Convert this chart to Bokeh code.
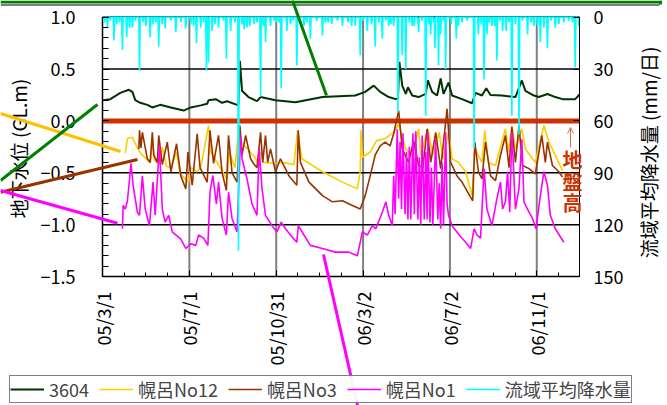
import math
import numpy as np
import pandas as pd
from bokeh.plotting import figure
from bokeh.models import (Range1d, LinearAxis, FixedTicker, Legend, LegendItem,
                          Arrow, OpenHead, Label)
from bokeh.embed import file_html
from bokeh.resources import INLINE

FONT = "Noto Sans CJK JP"

# ---------------- data (days since 2005-03-01) ----------------
start_date = "2005-03-01"
end_date = "2006-12-31"
x_tick_dates = ["2005-03-01", "2005-07-01", "2005-10-31", "2006-03-02", "2006-07-02", "2006-11-01"]
x_tick_labels = ["05/3/1", "05/7/1", "05/10/31", "06/3/2", "06/7/2", "06/11/1"]
y_left_ticks = [-1.5, -1.0, -0.5, 0.0, 0.5, 1.0]
y_left_labels = ["\u22121.5", "\u22121.0", "\u22120.5", "0.0", "0.5", "1.0"]
y_right_ticks = [0, 30, 60, 90, 120, 150]
ground_level = 0.0

series_names = ["3604", "幌呂No12", "幌呂No3", "幌呂No1", "流域平均降水量"]

d3604 = [1, 11, 25, 37, 42, 46, 53, 63, 70, 81, 96, 114, 124, 138, 147, 149, 159, 168, 175, 189,
         191, 193, 196, 205, 217, 222, 243, 271, 309, 355, 369, 381, 390, 402, 412, 415, 417, 421, 426, 429,
         435, 444, 454, 457, 463, 470, 475, 479, 486, 491, 505, 519, 524, 533, 539, 545, 561, 580, 589, 594,
         606, 613, 625, 636, 646, 664, 670]
v3604 = [0.20, 0.21, 0.27, 0.30, 0.28, 0.20, 0.175, 0.155, 0.13, 0.155, 0.13, 0.10, 0.13, 0.15, 0.165, 0.20, 0.21, 0.175, 0.19, 0.155,
         0.16, 0.58, 0.29, 0.23, 0.19, 0.23, 0.20, 0.18, 0.23, 0.245, 0.28, 0.34, 0.28, 0.23, 0.21, 0.22, 0.57, 0.34, 0.26, 0.325,
         0.245, 0.23, 0.26, 0.39, 0.28, 0.245, 0.41, 0.26, 0.37, 0.245, 0.21, 0.17, 0.27, 0.245, 0.315, 0.25, 0.245, 0.23, 0.39, 0.29,
         0.245, 0.23, 0.26, 0.23, 0.21, 0.21, 0.255]

d_no12 = [32, 35, 42, 46, 51, 56, 67, 70, 73, 81, 84, 90, 96, 104, 109, 121, 124, 133, 138, 149,
          152, 166, 175, 178, 186, 191, 196, 204, 214, 218, 222, 226, 243, 252, 269, 274, 280, 309, 337, 358,
          362, 363, 365, 376, 385, 397, 409, 416, 426, 435, 444, 447, 457, 464, 473, 478, 486, 491, 500, 510,
          519, 523, 533, 537, 542, 552, 566, 570, 575, 580, 589, 594, 608, 620, 627, 636, 646]
v_no12 = [-0.31, -0.17, -0.157, -0.22, -0.285, -0.33, -0.40, -0.20, -0.38, -0.42,
          -0.25, -0.44, -0.446, -0.30, -0.51, -0.59, -0.45, -0.49, -0.446, -0.044,
          -0.30, -0.46, -0.56, -0.30, -0.45, -0.11, -0.22, -0.27, -0.35, -0.40,
          -0.30, -0.40, -0.41, -0.40, -0.42, -0.09, -0.365, -0.49, -0.59, -0.655,
          -0.49, -0.09, -0.35, -0.30, -0.19, -0.17, -0.11, -0.03, -0.27, -0.33,
          -0.076, -0.33, -0.076, -0.33, -0.11, -0.365, -0.11, -0.365, -0.40, -0.49,
          -0.72, -0.27, -0.40, -0.09, -0.40, -0.43, -0.076, -0.30, -0.044, -0.27,
          -0.076, -0.27, -0.40, -0.044, -0.205, -0.33, -0.48]

d_no3 = [51, 52, 54, 56, 63, 67, 70, 72, 77, 79, 84, 91, 96, 104, 110, 117, 120, 126, 133, 137,
         147, 151, 156, 163, 168, 174, 177, 182, 189, 193, 196, 201, 208, 213, 217, 222, 225, 229, 232, 236,
         243, 250, 262, 273, 275, 278, 290, 309, 323, 337, 351, 362, 369, 376, 383, 390, 397, 404, 409, 416,
         421, 430, 437, 444, 450, 456, 461, 468, 475, 484, 489, 498, 505, 517, 520, 523, 528, 533, 538, 545,
         552, 559, 566, 571, 575, 580, 585, 590, 599, 608, 617, 622, 625, 632, 641, 646]
v_no3 = [-0.27, -0.09, -0.26, -0.11, -0.365, -0.40, -0.11, -0.33, -0.40, -0.14,
         -0.42, -0.205, -0.49, -0.22, -0.53, -0.655, -0.30, -0.62, -0.124, -0.45,
         -0.59, -0.09, -0.41, -0.14, -0.50, -0.67, -0.14, -0.50, -0.59, -0.044,
         -0.33, -0.14, -0.365, -0.42, -0.45, -0.11, -0.40, -0.14, -0.40, -0.27,
         -0.49, -0.365, -0.53, -0.62, -0.09, -0.40, -0.59, -0.72, -0.78, -0.77,
         -0.815, -0.85, -0.72, -0.53, -0.33, -0.24, -0.205, -0.24, -0.124, 0.10,
         -0.27, -0.40, -0.19, -0.43, -0.45, -0.076, -0.40, -0.11, -0.46, 0.117,
         -0.40, -0.53, -0.59, -0.735, -0.77, -0.205, -0.49, -0.56, -0.205, -0.53,
         -0.575, -0.33, -0.14, -0.45, -0.06, -0.40, -0.044, -0.43, -0.46, -0.51,
         -0.14, -0.40, -0.205, -0.43, -0.49, -0.54]

d_no1 = [28, 29, 32, 35, 38, 40, 43, 49, 52, 56, 60, 66, 71, 74, 80, 84, 88, 93, 98, 110,
         117, 124, 131, 135, 142, 148, 151, 155, 160, 163, 168, 174, 177, 182, 189, 194, 196, 203, 210, 217,
         220, 224, 229, 238, 245, 251, 257, 269, 273, 275, 283, 292, 309, 327, 346, 358, 365, 372, 379, 384,
         393, 398, 402,
         407, 409, 411, 414, 416, 418, 420, 422, 425, 427, 429, 431, 433, 436, 438, 440, 443, 445, 447, 449,
         452, 454, 456, 457, 460, 462, 464, 468, 471, 473, 475, 477, 479, 482, 484, 486, 491,
         501, 510, 517, 522, 526, 531, 536, 540, 547, 554, 559, 562, 566, 569, 572, 575, 580, 585, 589, 592,
         599, 604, 609, 615, 620, 625, 629, 636, 648]
v_no1 = [-1.04, -0.815, -0.85, -0.77, -0.56, -0.41, -0.62, -0.88, -0.91, -0.53,
         -0.85, -1.01, -0.59, -0.91, -0.24, -0.85, -0.976, -0.91, -1.07, -1.14,
         -1.23, -1.185, -1.2, -1.10, -1.13, -1.2, -0.687, -0.526, -0.80, -0.59,
         -0.94, -1.10, -0.687, -0.94, -1.07, -0.14, -0.365, -0.56, -0.80, -0.91,
         -0.27, -0.65, -0.91, -1.01, -1.07, -0.976, -1.04, -1.14, -1.17, -1.01,
         -1.10, -1.2, -1.23, -1.265, -1.265, -1.30, -1.07, -1.10, -1.01, -1.04,
         -0.88, -0.78, -0.91,
         -1.01, -0.53, -0.90, -0.08, -0.75, -0.20, -0.85, -0.12, -0.90, -0.30,
         -0.95, -0.25, -0.95, -0.12, -0.90, -0.10, -0.95, -0.35, -1.0, -0.14,
         -0.95, -0.30, -0.95, -0.11, -0.98, -0.45, -1.0, -0.18, -0.95, -0.60,
         -1.04, -0.40, -1.0, -0.11, -0.80, -0.91, -1.01,
         -1.10, -1.17, -1.23, -1.04, -1.10, -1.13, -0.46, -0.85, -1.01, -0.75,
         -0.59, -0.85, -0.78, -0.49, -0.88, -0.11, -0.85, -0.65, -0.176, -0.78,
         -0.88, -0.94, -1.04, -0.72, -0.49, -0.62, -0.91, -1.04, -1.17]

rain_days = [7, 16, 28, 34, 38, 42, 52, 67, 71, 79, 88, 103, 117, 124, 132, 138, 146, 149, 154, 163,
             174, 180, 191, 199, 203, 207, 213, 222, 229, 236, 244, 251, 259, 273, 292, 309, 317, 337, 355, 362,
             372, 383, 393, 402, 409, 415, 421, 426, 435, 443, 444, 454, 461, 467, 472, 475, 482, 497, 500, 522,
             528, 536, 540, 547, 554, 562, 567, 575, 585, 597, 606, 615, 620, 625, 636, 664, 669]
rain_mm = [5.8, 13.5, 19, 11.6, 6, 6, 31, 11.6, 4, 17, 6.5, 8.7, 6.5, 4, 15, 6, 31, 26, 8, 6,
           24, 8, 135, 7, 6, 5, 4, 46, 14.5, 5, 3, 41, 8, 28, 12.5, 10.6, 3, 5, 5, 22,
           8, 17, 12.5, 5, 5, 55, 22, 30, 5, 3, 8.7, 57, 10, 18, 28, 10, 30, 12.5, 5, 76,
           10, 36, 10, 5, 25, 8, 8, 57, 68, 10, 5, 14.5, 6, 18, 6, 29, 5]
rain_light_days = [3, 11, 20, 24, 46, 57, 61, 75, 84, 96, 110, 128, 142, 158, 170, 186, 196, 217, 226, 241,
                   248, 264, 268, 283, 287, 301, 313, 322, 330, 345, 350, 366, 378, 388, 398, 405, 431, 438, 449, 458,
                   465, 479, 490, 505, 512, 532, 543, 551, 558, 571, 580, 590, 602, 611, 630, 641, 648, 655, 660]
rain_light_mm = [3, 2, 4, 3, 2, 3, 5, 3, 4, 2, 3, 5, 3, 4, 2, 3, 4, 3, 5, 2,
                 3, 4, 2, 5, 3, 2, 3, 4, 2, 3, 5, 2, 4, 3, 2, 4, 3, 5, 2, 4,
                 3, 2, 4, 3, 2, 4, 3, 5, 2, 3, 4, 2, 3, 5, 2, 4, 3, 2, 3]

colors = ["#003300", "#FFCC00", "#993300", "#FF00FF", "#00FFFF"]

# ---------------- derived ----------------
t0 = pd.Timestamp(start_date)
n_days = (pd.Timestamp(end_date) - t0).days
x_ticks = [(pd.Timestamp(d) - t0).days for d in x_tick_dates]
step = x_ticks[1] - x_ticks[0]
x_minor = [t + k * step / 4 for t in x_ticks for k in range(1, 4)] + [x_ticks[-1] + step / 4 * k for k in range(1, 3)]
x_minor = sorted(set(m for m in x_minor if m < n_days))
y_minor = [round(-1.5 + 0.1 * i, 2) for i in range(26)]
y_lo, y_hi = y_left_ticks[0], y_left_ticks[-1]
r_lo, r_hi = y_right_ticks[0], y_right_ticks[-1]

days_all = np.arange(n_days + 1)
rain_daily = np.zeros(n_days + 1)
rain_daily[rain_light_days] = rain_light_mm
rain_daily[rain_days] = np.maximum(rain_daily[rain_days], rain_mm)

# ---------------- layout (canvas pixels) ----------------
W, H = 667, 405
PL, PR, PT, PB = 102, 579, 16.7, 276
kx = n_days / (PR - PL)
ky = (y_hi - y_lo) / (PB - PT)
x_range = Range1d(0 - PL * kx, n_days + (W - PR) * kx)
y_range = Range1d(y_lo - (H - PB) * ky, y_hi + PT * ky)
rain_per_level = (r_hi - r_lo) / (y_hi - y_lo)
to_rain = lambda lv: r_lo + (y_hi - lv) * rain_per_level

p = figure(width=W, height=H, output_backend="svg", toolbar_location=None,
           x_range=x_range, y_range=y_range,
           min_border=0, min_border_left=0, min_border_right=0, min_border_top=0, min_border_bottom=0,
           background_fill_color="white", border_fill_color="white", outline_line_color=None)
p.extra_y_ranges = {"rain": Range1d(start=to_rain(y_range.start), end=to_rain(y_range.end))}
p.grid.visible = False

# grid lines, ground line, plot-area box
p.segment(x0=x_ticks, x1=x_ticks, y0=[y_lo] * len(x_ticks), y1=[y_hi] * len(x_ticks),
          line_color="#808080", line_width=2)
p.segment(x0=[0] * len(y_left_ticks), x1=[n_days] * len(y_left_ticks), y0=y_left_ticks, y1=y_left_ticks,
          line_color="black", line_width=1.5)
p.quad(left=[0], right=[n_days], bottom=[y_lo], top=[y_hi], fill_color=None, line_color="black", line_width=1)
p.segment(x0=[0], x1=[n_days], y0=[ground_level], y1=[ground_level], line_color="#CC3300", line_width=5)

r1 = p.line(d3604, v3604, line_color=colors[0], line_width=2)
r2 = p.line(d_no12, v_no12, line_color=colors[1], line_width=1.6)
r3 = p.line(d_no3, v_no3, line_color=colors[2], line_width=1.6)
r4 = p.line(d_no1, v_no1, line_color=colors[3], line_width=1.6)
r5 = p.line(days_all, rain_daily, y_range_name="rain", line_color=colors[4], line_width=1.6)

# axes at fixed data locations
ax = p.xaxis[0]
ax.fixed_location = y_lo
ax.bounds = (0, n_days)
ax.ticker = FixedTicker(ticks=x_ticks, minor_ticks=x_minor)
ax.major_label_overrides = {t: l for t, l in zip(x_ticks, x_tick_labels)}
ax.major_label_orientation = math.pi / 2
ax.major_label_standoff = 15
ax.minor_tick_in = 4

ay = p.yaxis[0]
ay.fixed_location = 0
ay.bounds = (y_lo, y_hi)
ay.ticker = FixedTicker(ticks=y_left_ticks, minor_ticks=y_minor)
ay.major_label_overrides = {t: l for t, l in zip(y_left_ticks, y_left_labels)}
ay.major_label_standoff = 27
ay.minor_tick_in = 6

ar = LinearAxis(y_range_name="rain", ticker=FixedTicker(ticks=y_right_ticks), fixed_location=n_days,
                bounds=(r_lo, r_hi))
ar.major_label_standoff = 14
ar.minor_tick_line_color = None
p.add_layout(ar, "right")

for a in [ax, ay, ar]:
    a.axis_line_color = "black"
    a.major_tick_line_color = "black"
    a.major_tick_in = 6
    a.major_tick_out = 0
    a.minor_tick_out = 0
    a.major_label_text_font = FONT
    a.major_label_text_font_size = "18px"
    a.major_label_text_color = "black"
ax.minor_tick_line_color = "black"
ay.minor_tick_line_color = "black"

# axis titles
p.add_layout(Label(x=18, y=148, x_units="canvas", y_units="canvas", text="地下水位 (GL.m)", angle=math.pi / 2,
                   text_font=FONT, text_font_size="19px", text_color="black",
                   text_align="center", text_baseline="middle"))
p.add_layout(Label(x=648, y=152, x_units="canvas", y_units="canvas", text="流域平均降水量 (mm/日)", angle=math.pi / 2,
                   text_font=FONT, text_font_size="19px", text_color="black",
                   text_align="center", text_baseline="middle"))

legend = Legend(items=[LegendItem(label=n, renderers=[r]) for n, r in zip(series_names, [r1, r2, r3, r4, r5])],
                orientation="horizontal", location=(9, H - 403),
                border_line_color="black", border_line_width=1, background_fill_color="white",
                label_text_font=FONT, label_text_font_size="18px", glyph_width=34, glyph_height=18,
                label_height=18, label_standoff=5, spacing=10, padding=0, margin=0)
p.add_layout(legend, "center")

# decorative frame piece at top and callout lines (canvas pixels)
callouts = [("#008000", 0, 1.5, 660, 1.5, 3),
            ("#000000", 0, 4.5, 659, 4.5, 1),
            ("#008000", 660, 0, 660, 4, 3),
            ("#008000", 292, 0, 326, 95, 3),
            ("#FFC000", 0, 113, 120, 151, 3),
            ("#008000", 0, 180, 97, 104, 3),
            ("#993300", 0, 191.7, 137, 159, 3),
            ("#FF00FF", 0, 190, 117, 222.7, 3),
            ("#FF00FF", 323, 254, 357, 405, 3)]
for c, xs, ys, xe, ye, lw in callouts:
    p.add_layout(Arrow(start=None, end=None, x_start=xs, y_start=ys, x_end=xe, y_end=ye,
                       start_units="canvas", end_units="canvas", line_color=c, line_width=lw))

p.add_layout(Arrow(end=OpenHead(size=6, line_color="#E07050", line_width=1), start=None,
                   x_start=570, y_start=147, x_end=570, y_end=127,
                   start_units="canvas", end_units="canvas", line_color="#E07050", line_width=1))
for i, ch in enumerate("地盤高"):
    p.add_layout(Label(x=572, y=159 + 21.5 * i, x_units="canvas", y_units="canvas", text=ch,
                       text_font=FONT, text_font_size="20px", text_font_style="bold",
                       text_color="#CC3300", text_align="center", text_baseline="middle"))

open("out.html", "w").write(file_html(p, INLINE))
